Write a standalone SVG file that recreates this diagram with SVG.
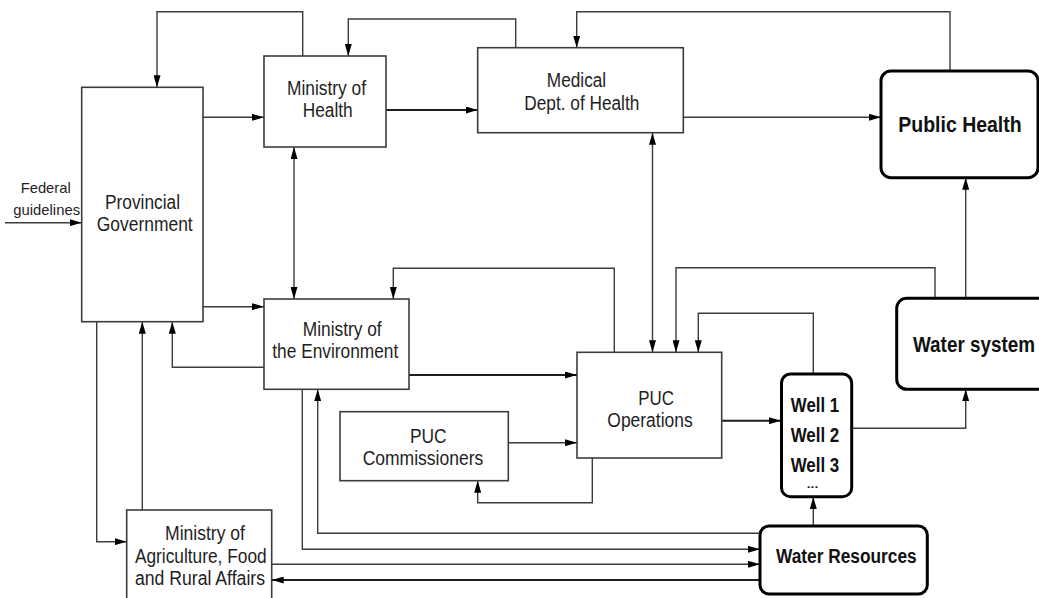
<svg xmlns="http://www.w3.org/2000/svg" width="1039" height="598" viewBox="0 0 1039 598">
  <style>
    .box { fill: #ffffff; stroke: #3c3c3c; stroke-width: 1.6; }
    .rbox { fill: #ffffff; stroke: #000000; stroke-width: 3; }
    .lbl { font-family: "Liberation Sans", Arial, sans-serif; font-size: 20px; fill: #1e1e1e; text-anchor: middle; }
    .small { font-size: 15px; }
    .bold { font-family: "Liberation Sans", Arial, sans-serif; font-weight: bold; fill: #111111; text-anchor: middle; }
    .conn path { fill: none; stroke: #3c3c3c; stroke-width: 1.4; }
    .conn path.heavy { stroke: #1e1e1e; stroke-width: 2; }
    .conn path.end { marker-end: url(#arrow); }
    .conn path.both { marker-start: url(#arrow); marker-end: url(#arrow); }
  </style>
  <defs>
    <marker id="arrow" markerUnits="userSpaceOnUse" markerWidth="12" markerHeight="7" refX="12" refY="3.5" orient="auto-start-reverse">
      <path d="M0,0 L12,3.5 L0,7 z" fill="#000000"/>
    </marker>
  </defs>
  <rect width="1039" height="598" fill="#ffffff"/>

  <!-- connectors -->
  <g id="connectors" class="conn">
    <path class="end" d="M5,222.7 H81.7"/>
    <path class="end" d="M302.7,56 V11.7 H157 V87.3"/>
    <path class="end" d="M203,117.3 H264"/>
    <path class="end" d="M515.7,47.7 V19 H348.3 V56"/>
    <path class="end heavy" d="M386,110 H477.7"/>
    <path class="end" d="M950,71 V11.7 H576.7 V47.7"/>
    <path class="end" d="M683.3,117.3 H881"/>
    <path class="both" d="M294,147 V299"/>
    <path class="both" d="M652.5,132.7 V352.3"/>
    <path class="end" d="M203,306.7 H264"/>
    <path class="end" d="M264,367.3 H172.3 V321.7"/>
    <path class="end" d="M614.3,352.3 V268.3 H393.3 V299"/>
    <path class="end heavy" d="M409,375 H577"/>
    <path class="end" d="M935,298.3 V267.7 H676 V352.3"/>
    <path class="end" d="M813.3,374 V313.3 H698.3 V352.3"/>
    <path class="end" d="M965.7,298.3 V177.7"/>
    <path class="end heavy" d="M722,420.7 H781"/>
    <path class="end" d="M852,428.3 H965.7 V389.3"/>
    <path class="end" d="M508.3,442.7 H577"/>
    <path class="end" d="M592.3,458 V502.7 H477.7 V480.7"/>
    <path class="end" d="M760,533.3 H317.7 V389.3"/>
    <path class="end" d="M302.3,389.3 V549.3 H760"/>
    <path class="end" d="M271.7,564.3 H760"/>
    <path class="end heavy" d="M760,580 H271.7"/>
    <path class="end" d="M813.3,526 V497"/>
    <path class="end" d="M96.7,321.7 V541.7 H126.7"/>
    <path class="end" d="M142.3,510 V321.7"/>
  </g>

  <!-- free-standing input label -->
  <g id="federal">
    <text class="lbl small" x="45.7" y="192.7" textLength="50" lengthAdjust="spacingAndGlyphs">Federal</text>
    <text class="lbl small" x="46.7" y="215" textLength="66.7" lengthAdjust="spacingAndGlyphs">guidelines</text>
  </g>

  <g id="provincial-government">
    <rect class="box" x="81.7" y="87.3" width="121.3" height="234.4"/>
    <text class="lbl" x="142.5" y="209" textLength="75" lengthAdjust="spacingAndGlyphs">Provincial</text>
    <text class="lbl" x="144.7" y="231" textLength="96" lengthAdjust="spacingAndGlyphs">Government</text>
  </g>

  <g id="ministry-of-health">
    <rect class="box" x="264" y="56" width="122" height="91"/>
    <text class="lbl" x="326.5" y="95" textLength="79" lengthAdjust="spacingAndGlyphs">Ministry of</text>
    <text class="lbl" x="327.7" y="116.7" textLength="50" lengthAdjust="spacingAndGlyphs">Health</text>
  </g>

  <g id="medical-dept">
    <rect class="box" x="477.7" y="47.7" width="205.6" height="85"/>
    <text class="lbl" x="576.5" y="87" textLength="59.3" lengthAdjust="spacingAndGlyphs">Medical</text>
    <text class="lbl" x="581.8" y="110" textLength="115" lengthAdjust="spacingAndGlyphs">Dept. of Health</text>
  </g>

  <g id="public-health">
    <rect class="rbox" x="881" y="71" width="157" height="106.7" rx="10" ry="10"/>
    <text class="bold" font-size="22" x="960" y="131.7" textLength="123.3" lengthAdjust="spacingAndGlyphs">Public Health</text>
  </g>

  <g id="ministry-of-environment">
    <rect class="box" x="264" y="299" width="145" height="90.3"/>
    <text class="lbl" x="342.2" y="336" textLength="79" lengthAdjust="spacingAndGlyphs">Ministry of</text>
    <text class="lbl" x="335.3" y="358" textLength="126" lengthAdjust="spacingAndGlyphs">the Environment</text>
  </g>

  <g id="puc-operations">
    <rect class="box" x="577" y="352.3" width="144.7" height="105.7"/>
    <text class="lbl" x="656" y="405" textLength="35.7" lengthAdjust="spacingAndGlyphs">PUC</text>
    <text class="lbl" x="650" y="427.3" textLength="85.3" lengthAdjust="spacingAndGlyphs">Operations</text>
  </g>

  <g id="puc-commissioners">
    <rect class="box" x="340" y="411.7" width="168.3" height="69"/>
    <text class="lbl" x="428.3" y="442.7" textLength="36.7" lengthAdjust="spacingAndGlyphs">PUC</text>
    <text class="lbl" x="423" y="465" textLength="120.7" lengthAdjust="spacingAndGlyphs">Commissioners</text>
  </g>

  <g id="wells">
    <rect class="rbox" x="781.5" y="374" width="70.2" height="122.7" rx="9" ry="9"/>
    <text class="bold" font-size="19.5" x="815" y="411.7" textLength="48.3" lengthAdjust="spacingAndGlyphs">Well 1</text>
    <text class="bold" font-size="19.5" x="815" y="442.3" textLength="48.6" lengthAdjust="spacingAndGlyphs">Well 2</text>
    <text class="bold" font-size="19.5" x="815" y="471.7" textLength="48.6" lengthAdjust="spacingAndGlyphs">Well 3</text>
    <text class="bold" font-size="11" x="812.5" y="488" textLength="11.6" lengthAdjust="spacingAndGlyphs">...</text>
  </g>

  <g id="water-system">
    <rect class="rbox" x="896.7" y="298.3" width="160" height="91" rx="10" ry="10"/>
    <text class="bold" font-size="22" x="913" y="351.7" style="text-anchor:start" textLength="122" lengthAdjust="spacingAndGlyphs">Water system</text>
  </g>

  <g id="water-resources">
    <rect class="rbox" x="760" y="526" width="167.3" height="68" rx="9" ry="9"/>
    <text class="bold" font-size="19.5" x="846.3" y="563.3" textLength="140.7" lengthAdjust="spacingAndGlyphs">Water Resources</text>
  </g>

  <g id="ministry-of-agriculture">
    <rect class="box" x="126.7" y="510" width="145" height="100"/>
    <text class="lbl" x="205" y="540" font-size="18.5" textLength="80" lengthAdjust="spacingAndGlyphs">Ministry of</text>
    <text class="lbl" x="200.8" y="563.3" font-size="18.5" textLength="131.7" lengthAdjust="spacingAndGlyphs">Agriculture, Food</text>
    <text class="lbl" x="200" y="585" font-size="18.5" textLength="130" lengthAdjust="spacingAndGlyphs">and Rural Affairs</text>
  </g>
</svg>
